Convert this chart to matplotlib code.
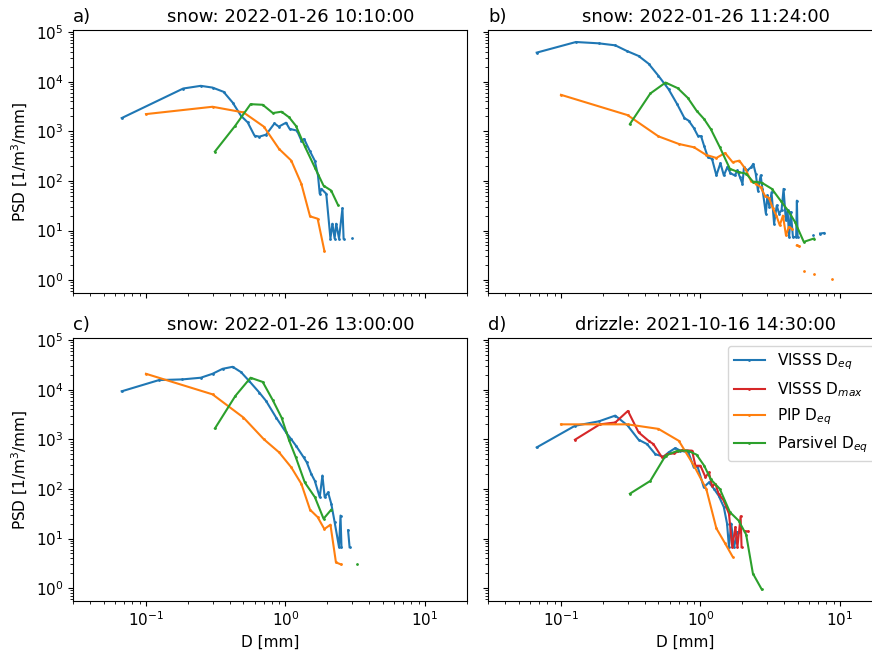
import numpy as np
import matplotlib
matplotlib.use('Agg')
import matplotlib.pyplot as plt

nan = np.nan

titles = ['snow: 2022-01-26 10:10:00', 'snow: 2022-01-26 11:24:00',
          'snow: 2022-01-26 13:00:00', 'drizzle: 2021-10-16 14:30:00']
letters = ['a)', 'b)', 'c)', 'd)']

parsivel_d = [0.312, 0.437, 0.562, 0.687, 0.812, 0.937, 1.062, 1.187, 1.375, 1.625,
              1.875, 2.125, 2.375, 2.75, 3.25, 3.75, 4.25, 4.75, 5.5, 6.5]

# ---- a) snow 10:10
visss_a_d = [0.067, 0.185, 0.247, 0.30, 0.36, 0.418, 0.48, 0.536, 0.60, 0.65, 0.726, 0.834,
             0.895, 1.01, 1.07, 1.21, 1.30, 1.36, 1.49, 1.62, 1.71, 1.76, 1.81, 1.96, 2.10,
             2.17, 2.25, 2.31, 2.42, 2.56, 2.61, 2.8, 3.0]
visss_a = [1846, 7280, 8240, 7600, 6240, 3800, 2050, 1510, 815, 780, 855, 1440,
           1240, 1490, 1120, 1030, 650, 700, 408, 257, 129, 55, 69, 55, 6.9,
           13.7, 6.9, 13.7, 6.9, 28, 6.9, nan, 7.2]
pip_a_d = [0.1, 0.3, 0.5, 0.7, 0.9, 1.1, 1.3, 1.5, 1.7, 1.9]
pip_a = [2220, 3120, 2400, 1240, 440, 257, 87, 19.3, 17.3, 3.9]
pars_a = [390, 1300, 3520, 3420, 2330, 2480, 1910, 1290, 500, 185, 80, 64, 33]

# ---- b) snow 11:24
visss_b_d = [0.067, 0.128, 0.186, 0.245, 0.297, 0.36, 0.425, 0.50, 0.59, 0.68, 0.767, 0.824,
             0.895, 0.957, 1.01, 1.06, 1.13, 1.21, 1.30, 1.39, 1.47, 1.56, 1.64, 1.76,
             1.84, 1.92, 2.00, 2.05, 2.17, 2.31, 2.39, 2.49, 2.58, 2.70, 2.78, 2.94,
             3.02, 3.12, 3.23, 3.37, 3.52, 3.66, 3.81, 3.94, 4.09, 4.21, 4.32, 4.44,
             4.6, 4.85, 4.91, 4.97, 5.4, 6.36, 6.8, 7.2, 7.7]
visss_b = [38500, 63000, 59300, 54000, 41500, 33000, 23000, 13100, 7080, 3540, 1850, 1630,
           1170, 815, 795, 515, 300, 277, 129, 228, 129, 190, 143, 129,
           162, 118, 87, 188, 162, 190, 220, 139, 64, 129, 69, 22,
           51, 30, 59, 13.7, 32, 22, 25.5, 69, 16, 25.5, 7.4, 23.6,
           7.4, 7.4, 40, 7.4, nan, 8.3, nan, 8.7, 8.9]
pip_b_d = [0.1, 0.3, 0.5, 0.7, 0.9, 1.1, 1.3, 1.5, 1.7, 1.9, 2.1, 2.3, 2.5, 2.7, 2.9, 3.1,
           3.3, 3.5, 3.7, 3.9, 4.1, 4.3, 4.5, 4.7, 4.9, 5.1, 5.3, 5.5, 6.0, 6.5, 7.5, 8.7]
pip_b = [5430, 2120, 790, 555, 475, 333, 290, 365, 238, 256, 174, 100, 87, 75, 50, 45,
         28, 20, 12.7, 20, 8, 11.8, 10.9, nan, 5.0, 4.8, nan, 1.54, nan, 1.32, nan, 1.05]
pars_b = [1400, 5780, 9590, 7400, 4700, 2600, 1760, 1100, 480, 175,
          150, 140, 97, 92, 69, 40, 25, 15, 5.9, 6.9]

# ---- c) snow 13:00
visss_c_d = [0.067, 0.124, 0.182, 0.247, 0.30, 0.354, 0.418, 0.48, 0.55, 0.65, 0.726, 0.857,
             1.01, 1.10, 1.19, 1.35, 1.42, 1.53, 1.62, 1.76, 1.84, 1.91, 2.02, 2.13,
             2.25, 2.42, 2.48, 2.52, 2.65, 2.81, 2.88]
visss_c = [9270, 15600, 16100, 17400, 20900, 26300, 28900, 22600, 14900, 8720, 5920, 2740,
           1370, 1000, 740, 432, 343, 200, 147, 68, 186, 68, 85, 50,
           21.5, 6.7, 29, 6.7, nan, 14.6, 6.7]
pip_c_d = [0.1, 0.3, 0.5, 0.7, 0.9, 1.1, 1.3, 1.5, 1.7, 1.9, 2.1, 2.3, 2.5]
pip_c = [20900, 8050, 2740, 1000, 545, 272, 126, 38, 27, 15.5, 19, 3.3, 3.0]
pars_c = [1650, 7460, 17400, 14300, 6100, 2740, 950, 430, 135, 68, 25, 38, nan, nan, 3.0]

# ---- d) drizzle
visss_d_d = [0.067, 0.126, 0.187, 0.245, 0.30, 0.36, 0.414, 0.475, 0.545, 0.59, 0.66, 0.718,
             0.82, 0.895, 0.95, 1.056, 1.15, 1.25, 1.35, 1.47, 1.55, 1.6, 1.66, 1.74,
             1.84, 1.9]
visss_d = [686, 1870, 2300, 3000, 1900, 980, 800, 500, 445, 543, 665, 590,
           543, 270, 290, 108, 135, 100, 73, 43, 20, 6.7, 20, 6.7,
           13.5, 13.5]
vmax_d_d = [0.126, 0.19, 0.245, 0.302, 0.36, 0.425, 0.46, 0.53, 0.576, 0.643, 0.738, 0.87,
            0.92, 1.0, 1.086, 1.15, 1.21, 1.28, 1.35, 1.47, 1.60, 1.69, 1.78, 1.84,
            1.94, 1.97, 2.02, 2.08, 2.19]
vmax_d = [980, 2000, 2180, 3730, 1380, 930, 800, 431, 500, 520, 605, 590,
          293, 293, 172, 215, 115, 126, 79, 58, 31.5, 6.7, 17, 6.7,
          28, 6.7, nan, 13.9, 13.9]
pip_d_d = [0.1, 0.3, 0.5, 0.7, 0.9, 1.1, 1.3, 1.5, 1.7]
pip_d = [2000, 2000, 1620, 930, 290, 100, 16, 8, 4.3]
pars_d = [80, 145, 468, 590, 590, 490, 295, 155, 100, 34, 23, 12, 1.97, 0.94]

plt.rcParams['font.size'] = 11
plt.rcParams['axes.titlesize'] = 13

W, H = 872, 655
fig, axs = plt.subplots(2, 2, figsize=(W / 100, H / 100), dpi=100, sharex=True, sharey=True)
axs = axs.flatten()
# the right column runs past the right edge of the picture (cropped original)
boxes = [(73, 30), (488, 30), (73, 338), (488, 338)]
for ax, (x0, y0) in zip(axs, boxes):
    ax.set_position([x0 / W, 1 - (y0 + 263) / H, 394 / W, 263 / H])

sty = dict(marker='.', ms=2)

panels = [
    (visss_a_d, visss_a, None, None, pip_a_d, pip_a, pars_a),
    (visss_b_d, visss_b, None, None, pip_b_d, pip_b, pars_b),
    (visss_c_d, visss_c, None, None, pip_c_d, pip_c, pars_c),
    (visss_d_d, visss_d, vmax_d_d, vmax_d, pip_d_d, pip_d, pars_d),
]

for i, (ax, p) in enumerate(zip(axs, panels)):
    vd, vv, md, mv, pd_, pv, rv = p
    ax.plot(vd, vv, color='C0', label='VISSS D$_{eq}$', **sty)
    if md is not None:
        ax.plot(md, mv, color='C3', label='VISSS D$_{max}$', **sty)
    ax.plot(pd_, pv, color='C1', label='PIP D$_{eq}$', **sty)
    ax.plot(parsivel_d[:len(rv)], rv, color='C2', label='Parsivel D$_{eq}$', **sty)
    ax.set_xscale('log')
    ax.set_yscale('log')
    ax.set_title(letters[i], loc='left')
    ax.set_title(titles[i], x=0.553)

axs[0].set_xlim(0.03, 20)
axs[0].set_ylim(0.55, 1.1e5)
axs[0].set_ylabel('PSD [1/m$^3$/mm]')
axs[2].set_ylabel('PSD [1/m$^3$/mm]')
axs[2].set_xlabel('D [mm]')
axs[3].set_xlabel('D [mm]')
axs[3].legend(loc='upper right')

plt.savefig('out.png')
